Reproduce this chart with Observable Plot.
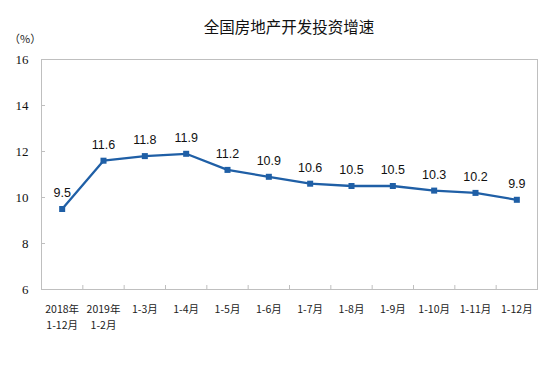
<!DOCTYPE html>
<html>
<head>
<meta charset="utf-8">
<script src="https://cdn.jsdelivr.net/npm/d3@7"></script>
<script src="https://cdn.jsdelivr.net/npm/@observablehq/plot@0.6"></script>
<style>
  html, body { margin: 0; padding: 0; background: #fff; }
  #wrap { width: 554px; height: 367px; position: relative; overflow: hidden; }
  #head { position: relative; height: 48px; }
  #title { position: absolute; left: 41px; width: 496px; top: 15px; text-align: center;
           font-family: "Noto Sans CJK SC", sans-serif; font-size: 15.5px; color: #111; line-height: 22px; }
  #unit { position: absolute; left: 9px; top: 30px; font-family: "Noto Sans CJK SC", serif;
          font-size: 11px; color: #222; line-height: 16px; }
</style>
</head>
<body>
<div id="wrap">
  <div id="head">
    <div id="title">全国房地产开发投资增速</div>
    <div id="unit">（%）</div>
  </div>
  <div id="chart"></div>
</div>
<script>
const categories = ["2018年\n1-12月", "2019年\n1-2月", "1-3月", "1-4月", "1-5月", "1-6月", "1-7月", "1-8月", "1-9月", "1-10月", "1-11月", "1-12月"];
const growth = [9.5, 11.6, 11.8, 11.9, 11.2, 10.9, 10.6, 10.5, 10.5, 10.3, 10.2, 9.9];
const yTicks = [6, 8, 10, 12, 14, 16];

const data = categories.map((c, i) => ({i, label: c, v: growth[i]}));
const boundaries = d3.range(1, categories.length).map(k => k - 0.5);

const lineColor = "#1f5fa6";
const frameColor = "#bfbfbf";

const chart = Plot.plot({
  width: 554,
  height: 319,
  marginLeft: 41,
  marginRight: 17,
  marginTop: 11,
  marginBottom: 78,
  style: {fontFamily: "Liberation Serif", fontSize: "13px", color: "#111", background: "#fff"},
  x: {domain: [-0.5, categories.length - 0.5], axis: null},
  y: {domain: [6, 16], axis: null},
  marks: [
    Plot.frame({stroke: frameColor}),
    Plot.axisY(yTicks, {tickSize: 0, tickPadding: 13, tickFormat: d => String(d), label: null,
                        fontFamily: "Liberation Serif", fontSize: 13, fill: "#111"}),
    Plot.tickY(yTicks, {y: d => d, stroke: frameColor, insetRight: 492}),
    Plot.tickX(boundaries, {x: d => d, stroke: frameColor, insetTop: 226}),
    Plot.line(data, {x: "i", y: "v", stroke: lineColor, strokeWidth: 2.3}),
    Plot.dot(data, {x: "i", y: "v", symbol: "square", r: 3.4, fill: lineColor, stroke: null}),
    Plot.text(data, {x: "i", y: "v", text: d => d.v.toFixed(1), dy: -16, fontFamily: "Liberation Sans", fontSize: 12.5, fill: "#111"}),
    Plot.text(data, {x: "i", text: "label", frameAnchor: "bottom", lineAnchor: "top", dy: 12, lineHeight: 1.55,
                     fontFamily: "Noto Sans CJK SC", fontSize: 10.5, fill: "#222"})
  ]
});
document.getElementById("chart").appendChild(chart);
</script>
</body>
</html>
